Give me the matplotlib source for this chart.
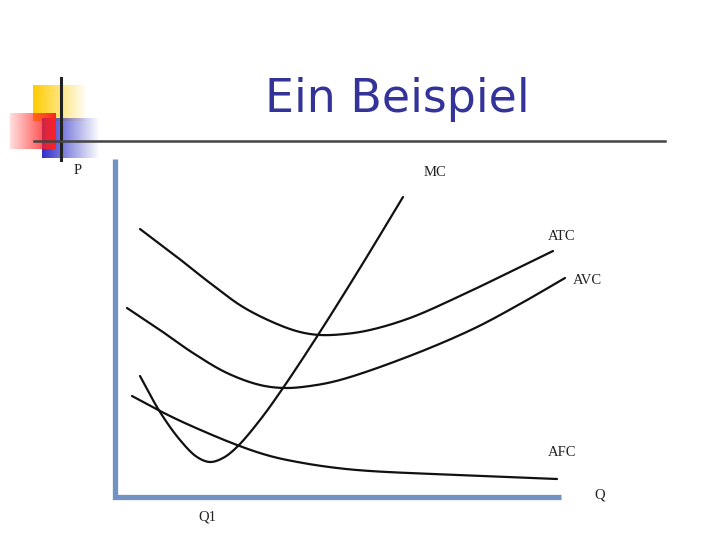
"""Slide: Ein Beispiel - cost curves (MC, ATC, AVC, AFC)."""

import numpy as np
import matplotlib.pyplot as plt
from matplotlib.colors import to_rgb

# Curve points (pixel positions of the original slide)
mc_x = [140, 160, 180, 197, 210, 223, 237, 260, 283, 318, 360, 403]
mc_y = [376, 412, 440, 457, 462, 458, 447, 420, 388, 335, 268, 197]
atc_x = [140, 177, 210, 243, 277, 300, 320, 345, 370, 410, 460, 510, 553]
atc_y = [229, 257, 283, 307, 324, 332, 335, 334, 330, 318, 296, 272, 251]
avc_x = [127, 160, 193, 227, 260, 285, 310, 340, 407, 473, 520, 565]
avc_y = [308, 330, 353, 373, 385, 388, 386, 380, 357, 329, 304, 278]
afc_x = [132, 160, 187, 237, 270, 303, 337, 370, 457, 557]
afc_y = [396, 411, 424, 445, 456, 463, 468, 471, 475, 479]

W, H = 720, 540
ORIGIN = (115, 497)  # axis corner on the slide


def to_data(xs, ys):
    # pixel -> chart units (Q, P), origin at the axis corner
    q = np.array(xs, float) - ORIGIN[0]
    p = ORIGIN[1] - np.array(ys, float)
    return q, p


def smooth(xs, ys, steps=30):
    # centripetal Catmull-Rom through the read points
    pts = np.column_stack([xs, ys])
    pts = np.vstack([2 * pts[0] - pts[1], pts, 2 * pts[-1] - pts[-2]])
    out = []
    for i in range(1, len(pts) - 2):
        p0, p1, p2, p3 = pts[i - 1], pts[i], pts[i + 1], pts[i + 2]
        t0 = 0.0
        t1 = t0 + np.linalg.norm(p1 - p0) ** 0.5
        t2 = t1 + np.linalg.norm(p2 - p1) ** 0.5
        t3 = t2 + np.linalg.norm(p3 - p2) ** 0.5
        t = np.linspace(t1, t2, steps)[:, None]
        a1 = (t1 - t) / (t1 - t0) * p0 + (t - t0) / (t1 - t0) * p1
        a2 = (t2 - t) / (t2 - t1) * p1 + (t - t1) / (t2 - t1) * p2
        a3 = (t3 - t) / (t3 - t2) * p2 + (t - t2) / (t3 - t2) * p3
        b1 = (t2 - t) / (t2 - t0) * a1 + (t - t0) / (t2 - t0) * a2
        b2 = (t3 - t) / (t3 - t1) * a2 + (t - t1) / (t3 - t1) * a3
        out.append((t2 - t) / (t2 - t1) * b1 + (t - t1) / (t2 - t1) * b2)
    out = np.vstack(out)
    return out[:, 0], out[:, 1]


def gradient_box(ax, x0, x1, y0, y1, color, fade="right"):
    rgb = to_rgb(color)
    n = 64
    alpha = np.linspace(1, 0, n) if fade == "right" else np.linspace(0.15, 1, n)
    img = np.zeros((2, n, 4))
    img[..., :3] = rgb
    img[..., 3] = alpha
    ax.imshow(img, extent=(x0, x1, y1, y0), aspect="auto", interpolation="bilinear", zorder=1)


def main():
    fig = plt.figure(figsize=(7.2, 5.4), dpi=100)

    # slide layer in pixel units
    bg = fig.add_axes([0, 0, 1, 1])
    bg.set_xlim(0, W)
    bg.set_ylim(H, 0)
    bg.axis("off")

    gradient_box(bg, 33, 88, 85, 121, "#ffcc00", fade="right")
    gradient_box(bg, 42, 100, 118, 158, "#3030c8", fade="right")
    gradient_box(bg, 10, 56, 113, 149, "#ff2020", fade="left")
    bg.plot([61, 61], [78, 160], color="#222222", lw=2.2, zorder=3)
    bg.plot([34, 665], [141, 141], color="#444444", lw=1.8, zorder=3)

    bg.text(397, 100, "Ein Beispiel", ha="center", va="center", fontsize=33,
            color="#333399", family=["DejaVu Sans"])

    # chart layer: Q / P units with origin at the axis corner
    ax = fig.add_axes([ORIGIN[0] / W, (H - ORIGIN[1]) / H, 450 / W, 340 / H])
    ax.set_xlim(0, 450)
    ax.set_ylim(0, 340)
    ax.axis("off")
    ax.patch.set_alpha(0)

    axis_col = "#7093c4"
    ax.plot([0, 0, 446], [338, 0, 0], color=axis_col, lw=3.8, solid_capstyle="butt",
            solid_joinstyle="miter", clip_on=False)

    for xs, ys in [(mc_x, mc_y), (atc_x, atc_y), (avc_x, avc_y), (afc_x, afc_y)]:
        q, p = to_data(xs, ys)
        sq, sp = smooth(q, p)
        ax.plot(sq, sp, color="#111111", lw=1.6, solid_capstyle="round", clip_on=False)

    serif = ["Liberation Serif", "DejaVu Serif"]
    labels = [("P", 78, 171), ("MC", 435, 172), ("ATC", 562, 237), ("AVC", 587, 280),
              ("AFC", 562, 453), ("Q", 600, 495), ("Q1", 207, 517)]
    for txt, x, y in labels:
        bg.text(x, y, txt, ha="center", va="center", fontsize=10.5, color="#222222",
                family=serif)

    fig.savefig("out.png", dpi=100)


if __name__ == "__main__":
    main()
